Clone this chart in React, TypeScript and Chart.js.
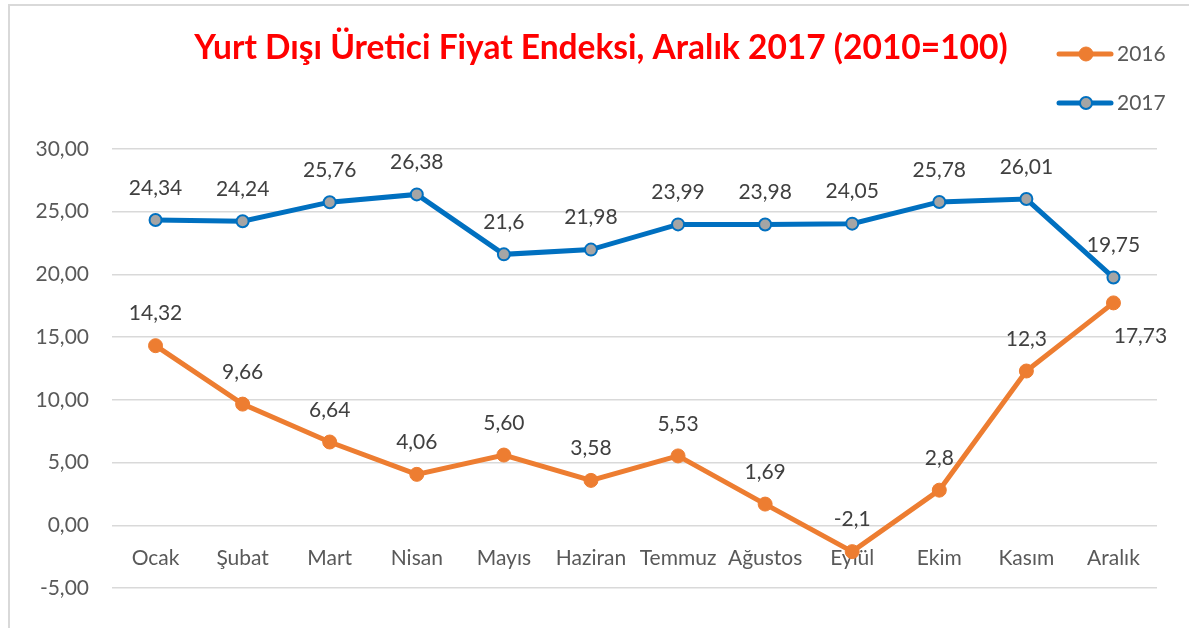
import React, { useEffect, useRef } from 'react';
import { Chart, registerables } from 'chart.js';

Chart.register(...registerables);

const FONT = 'Lato, "Open Sans", sans-serif';

const titleText = 'Yurt Dışı Üretici Fiyat Endeksi, Aralık 2017 (2010=100)';
const months = ['Ocak', 'Şubat', 'Mart', 'Nisan', 'Mayıs', 'Haziran', 'Temmuz', 'Ağustos', 'Eylül', 'Ekim', 'Kasım', 'Aralık'];
const seriesNames = ['2016', '2017'];
const values2016 = [14.32, 9.66, 6.64, 4.06, 5.6, 3.58, 5.53, 1.69, -2.1, 2.8, 12.3, 17.73];
const values2017 = [24.34, 24.24, 25.76, 26.38, 21.6, 21.98, 23.99, 23.98, 24.05, 25.78, 26.01, 19.75];
const labels2016 = ['14,32', '9,66', '6,64', '4,06', '5,60', '3,58', '5,53', '1,69', '-2,1', '2,8', '12,3', '17,73'];
const labels2017 = ['24,34', '24,24', '25,76', '26,38', '21,6', '21,98', '23,99', '23,98', '24,05', '25,78', '26,01', '19,75'];
const yMin = -5;
const yMax = 30;
const yStep = 5;

const ORANGE = '#ED7D31';
const BLUE = '#0070C0';
const GRAY = '#A5A5A5';

const overlayPlugin = {
  id: 'overlay',
  afterDatasetsDraw(chart: any) {
    const ctx = chart.ctx;
    ctx.save();
    ctx.font = `21px ${FONT}`;
    ctx.fillStyle = '#404040';
    ctx.textAlign = 'center';
    ctx.textBaseline = 'middle';
    const allLabels = [labels2016, labels2017];
    chart.data.datasets.forEach((ds: any, di: number) => {
      const meta = chart.getDatasetMeta(di);
      meta.data.forEach((pt: any, i: number) => {
        let x = pt.x;
        let y = pt.y - 32;
        if (di === 0 && i === months.length - 1) {
          x = pt.x + 27;
          y = pt.y + 33;
        }
        ctx.fillText(allLabels[di][i], x, y);
      });
    });
    ctx.restore();
  },
  afterDraw(chart: any) {
    const ctx = chart.ctx;
    ctx.save();
    // frame
    ctx.strokeStyle = '#D9D9D9';
    ctx.lineWidth = 2;
    ctx.beginPath();
    ctx.moveTo(9, chart.height);
    ctx.lineTo(9, 5);
    ctx.lineTo(chart.width, 5);
    ctx.stroke();
    // title
    ctx.font = `bold 33.5px ${FONT}`;
    ctx.fillStyle = '#FF0000';
    ctx.textAlign = 'center';
    ctx.textBaseline = 'middle';
    ctx.fillText(titleText, 601, 48);
    // legend
    chart.data.datasets.forEach((ds: any, di: number) => {
      const y = 54 + di * 49;
      ctx.strokeStyle = ds.borderColor;
      ctx.lineWidth = 5;
      ctx.lineCap = 'round';
      ctx.beginPath();
      ctx.moveTo(1059, y);
      ctx.lineTo(1111, y);
      ctx.stroke();
      ctx.beginPath();
      ctx.arc(1086, y, ds.pointRadius, 0, Math.PI * 2);
      ctx.fillStyle = ds.pointBackgroundColor;
      ctx.fill();
      ctx.lineWidth = ds.pointBorderWidth;
      ctx.strokeStyle = ds.pointBorderColor;
      ctx.stroke();
      ctx.font = `21px ${FONT}`;
      ctx.fillStyle = '#595959';
      ctx.textAlign = 'left';
      ctx.textBaseline = 'middle';
      ctx.fillText(ds.label, 1117, y);
    });
    ctx.restore();
  },
};

export default function App() {
  const canvasRef = useRef<HTMLCanvasElement | null>(null);

  useEffect(() => {
    const canvas = canvasRef.current;
    if (!canvas) return;
    const chart = new Chart(canvas, {
      type: 'line',
      data: {
        labels: months,
        datasets: [
          {
            label: seriesNames[0],
            data: values2016,
            borderColor: ORANGE,
            backgroundColor: ORANGE,
            borderWidth: 5,
            pointRadius: 7,
            pointBackgroundColor: ORANGE,
            pointBorderColor: ORANGE,
            pointBorderWidth: 1,
            tension: 0,
          },
          {
            label: seriesNames[1],
            data: values2017,
            borderColor: BLUE,
            backgroundColor: BLUE,
            borderWidth: 5,
            pointRadius: 6,
            pointBackgroundColor: GRAY,
            pointBorderColor: BLUE,
            pointBorderWidth: 2,
            tension: 0,
          },
        ],
      },
      options: {
        responsive: false,
        animation: false,
        layout: { padding: { left: 0, right: 32, top: 149, bottom: 40 } },
        plugins: {
          legend: { display: false },
          title: { display: false },
          tooltip: { enabled: false },
        },
        scales: {
          x: {
            position: { y: 0 } as any,
            offset: true,
            grid: { display: false, drawTicks: false },
            border: { display: false },
            ticks: {
              padding: 20,
              color: '#595959',
              font: { family: FONT, size: 21 },
              maxRotation: 0,
              autoSkip: false,
            },
          },
          y: {
            min: yMin,
            max: yMax,
            grid: { color: '#D9D9D9', lineWidth: 1.5, drawTicks: false },
            border: { display: false },
            afterFit(scale: any) {
              scale.width = 112;
            },
            ticks: {
              stepSize: yStep,
              padding: 23,
              color: '#595959',
              font: { family: FONT, size: 21 },
              callback: (v: any) => Number(v).toFixed(2).replace('.', ','),
            },
          },
        },
      },
      plugins: [overlayPlugin],
    });
    return () => chart.destroy();
  }, []);

  return (
    <div style={{ position: 'absolute', left: 0, top: 0, width: 1189, height: 628, background: '#fff' }}>
      <canvas ref={canvasRef} width={1189} height={628} />
    </div>
  );
}
